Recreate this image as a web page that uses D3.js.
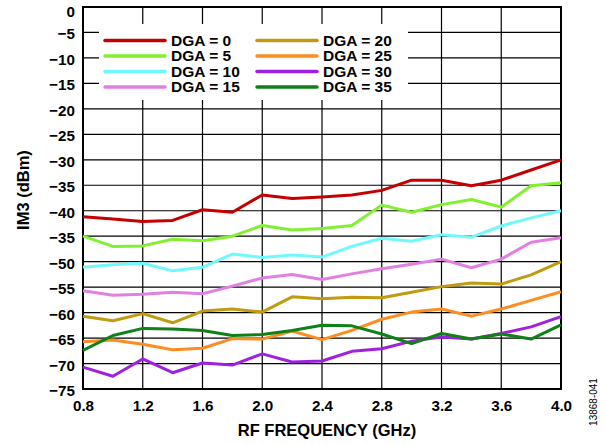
<!DOCTYPE html>
<html><head><meta charset="utf-8">
<script src="https://cdn.jsdelivr.net/npm/d3@7"></script>
<style>
body{margin:0;background:#fff;}
text{font-family:"Liberation Sans",Arial,Helvetica,sans-serif;}
</style></head>
<body><svg id="c" width="605" height="444"></svg>
<script>
const freqs = [0.8,1.0,1.2,1.4,1.6,1.8,2.0,2.2,2.4,2.6,2.8,3.0,3.2,3.4,3.6,3.8,4.0];
const seriesNames = ["DGA = 0","DGA = 5","DGA = 10","DGA = 15","DGA = 20","DGA = 25","DGA = 30","DGA = 35"];
const seriesColors = ["#c40000","#80f030","#70f8ff","#e080e0","#c09a10","#ff8c20","#a020e0","#108018"];
const dga0  = [-41.2,-41.6,-42.1,-41.9,-39.8,-40.3,-36.9,-37.6,-37.3,-36.9,-36.0,-34.0,-34.0,-35.1,-34.0,-32.0,-30.0];
const dga5  = [-45.0,-47.0,-46.9,-45.6,-45.9,-45.0,-42.9,-43.8,-43.5,-42.9,-38.9,-40.3,-38.8,-37.8,-39.3,-35.1,-34.5];
const dga10 = [-51.1,-50.6,-50.3,-51.8,-51.1,-48.5,-49.2,-48.7,-49.1,-47.0,-45.4,-46.0,-44.7,-45.2,-43.0,-41.4,-40.0];
const dga15 = [-55.7,-56.6,-56.4,-56.0,-56.3,-54.8,-53.2,-52.5,-53.5,-52.4,-51.4,-50.5,-49.5,-51.2,-49.5,-46.2,-45.3];
const dga20 = [-60.7,-61.6,-60.2,-62.0,-59.7,-59.3,-59.9,-56.9,-57.3,-57.0,-57.1,-56.0,-54.9,-54.2,-54.4,-52.6,-50.0];
const dga25 = [-65.7,-65.4,-66.2,-67.3,-67.0,-65.1,-65.2,-63.6,-65.3,-63.5,-61.3,-59.9,-59.3,-60.7,-59.3,-57.6,-55.9];
const dga30 = [-70.7,-72.5,-69.1,-71.8,-69.9,-70.3,-68.1,-69.7,-69.5,-67.6,-67.1,-65.6,-64.8,-65.2,-64.1,-62.8,-60.8];
const dga35 = [-67.4,-64.5,-63.1,-63.2,-63.5,-64.5,-64.3,-63.5,-62.5,-62.6,-64.2,-66.1,-64.1,-65.2,-64.2,-65.2,-62.4];
const seriesValues = [dga0,dga5,dga10,dga15,dga20,dga25,dga30,dga35];
const xTicks = [0.8,1.2,1.6,2.0,2.4,2.8,3.2,3.6,4.0];
const xTickLabels = ["0.8","1.2","1.6","2.0","2.4","2.8","3.2","3.6","4.0"];
const yTicks = [0,-5,-10,-15,-20,-25,-30,-35,-40,-45,-50,-55,-60,-65,-70,-75];
const yTickLabels = ["0","\u22125","\u221210","\u221215","\u221220","\u221225","\u221230","\u221235","\u221240","\u221235","\u221250","\u221255","\u221260","\u221265","\u221270","\u221275"];

const svg = d3.select("#c");
const L=83,R=561,T=7,B=389;
const x = d3.scaleLinear().domain([0.8,4.0]).range([L,R]);
const y = d3.scaleLinear().domain([-75,0]).range([B,T]);
const FS = 15.2;

// grid
const g = svg.append("g");
g.selectAll(".vg").data(xTicks).join("line")
  .attr("x1",d=>x(d)).attr("x2",d=>x(d)).attr("y1",T).attr("y2",B)
  .attr("stroke","#000").attr("stroke-width",1.2);
g.selectAll(".hg").data(yTicks).join("line")
  .attr("x1",L).attr("x2",R).attr("y1",d=>y(d)).attr("y2",d=>y(d))
  .attr("stroke","#000").attr("stroke-width",1.2);

// legend box (white, hides grid)
svg.append("rect").attr("x",99).attr("y",24).attr("width",309).attr("height",76).attr("fill","#fff");

// frame
svg.append("rect").attr("x",L).attr("y",T).attr("width",R-L).attr("height",B-T)
  .attr("fill","none").attr("stroke","#000").attr("stroke-width",2);

// axes labels
const xAxis = d3.axisBottom(x).tickValues(xTicks).tickFormat((d,i)=>xTickLabels[i]).tickSize(0).tickPadding(0);
const xa = svg.append("g").attr("transform",`translate(0,${B})`).call(xAxis);
xa.select(".domain").remove();
xa.selectAll("text").attr("y",21.5).attr("dy",0).attr("font-size",FS).attr("font-weight","bold").attr("fill","#000")
  .style("font-family","'Liberation Sans',Arial,sans-serif");

const yAxis = d3.axisLeft(y).tickValues(yTicks).tickFormat((d,i)=>yTickLabels[i]).tickSize(0).tickPadding(0);
const ya = svg.append("g").attr("transform",`translate(${L-8},0)`).call(yAxis);
ya.select(".domain").remove();
ya.selectAll("text").attr("x",0).attr("dy","0.36em").attr("font-size",FS).attr("font-weight","bold").attr("fill","#000")
  .style("font-family","'Liberation Sans',Arial,sans-serif")
  .attr("transform",d=>d===0?"translate(0,4)":"translate(0,1)");

// series lines
const line = d3.line().x((d,i)=>x(freqs[i])).y(d=>y(d));
svg.selectAll(".s").data(seriesValues).join("path")
  .attr("d",d=>line(d)).attr("fill","none")
  .attr("stroke",(d,i)=>seriesColors[i]).attr("stroke-width",3)
  .attr("stroke-linejoin","round");

// legend
const lg = svg.selectAll(".lg").data(seriesNames).join("g")
  .attr("transform",(d,i)=>`translate(${i<4?105:257},${40.5+ (i%4)*15.5})`);
lg.append("line").attr("x1",0).attr("x2",60).attr("y1",0).attr("y2",0)
  .attr("stroke",(d,i)=>seriesColors[i]).attr("stroke-width",3.5).attr("stroke-linecap","round");
lg.append("text").attr("x",66).attr("y",5.3).attr("font-size",15.5).attr("font-weight","bold").text(d=>d);

// titles
svg.append("text").attr("x",(L+R)/2+5).attr("y",436).attr("text-anchor","middle")
  .attr("font-size",16.5).attr("font-weight","bold").text("RF FREQUENCY (GHz)");
svg.append("text").attr("transform",`translate(29,${(T+B)/2-8}) rotate(-90)`).attr("text-anchor","middle")
  .attr("font-size",16.5).attr("font-weight","bold").text("IM3 (dBm)");
svg.append("text").attr("transform",`translate(597,402) rotate(-90)`).attr("text-anchor","middle")
  .attr("font-size",10).text("13868-041");
</script></body></html>
